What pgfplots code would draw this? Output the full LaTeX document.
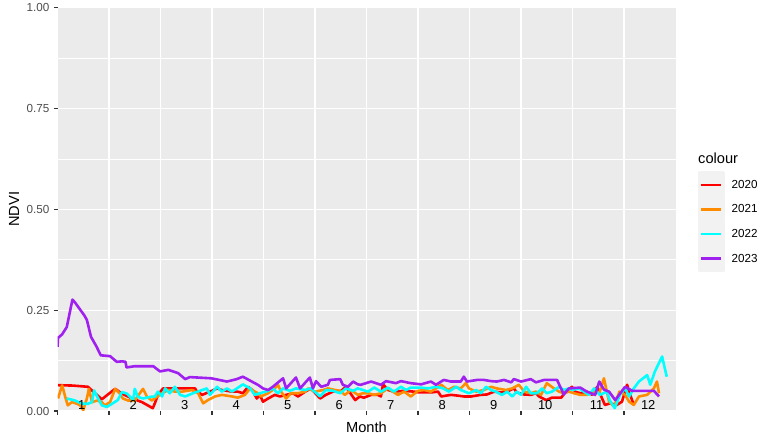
\documentclass[border=0pt]{standalone}
\usepackage{pgfplots}
\pgfplotsset{compat=1.18}
\usepackage{pgfplotstable}
\usepackage{fontspec}
\setmainfont{Liberation Sans}
\definecolor{panelbg}{HTML}{EBEBEB}
\definecolor{keybg}{HTML}{F2F2F2}
\definecolor{tickgray}{HTML}{4D4D4D}
\definecolor{tickmark}{HTML}{333333}
\definecolor{c2020}{HTML}{FF0000}
\definecolor{c2021}{HTML}{FF8C00}
\definecolor{c2022}{HTML}{00FFFF}
\definecolor{c2023}{HTML}{A020F0}

\pgfplotstableread{
m v
0.01 0.064
0.30 0.063
0.59 0.060
0.86 0.029
1.12 0.055
1.25 0.043
1.45 0.031
1.64 0.022
1.85 0.007
1.89 0.019
1.95 0.040
2.05 0.056
2.42 0.056
2.67 0.056
2.71 0.048
2.81 0.040
2.96 0.048
3.10 0.056
3.19 0.052
3.39 0.048
3.50 0.048
3.60 0.044
3.70 0.060
3.78 0.052
3.87 0.031
3.93 0.040
3.99 0.023
4.09 0.031
4.22 0.040
4.32 0.036
4.44 0.040
4.57 0.044
4.67 0.036
4.81 0.048
4.92 0.056
5.10 0.031
5.21 0.040
5.35 0.048
5.49 0.048
5.60 0.060
5.78 0.027
5.87 0.036
5.95 0.033
6.09 0.040
6.22 0.040
6.28 0.036
6.32 0.066
6.42 0.052
6.53 0.048
6.73 0.050
6.92 0.048
7.02 0.046
7.25 0.046
7.39 0.048
7.45 0.036
7.64 0.040
7.78 0.038
7.89 0.036
8.03 0.036
8.22 0.040
8.34 0.041
8.48 0.048
8.61 0.046
8.73 0.048
8.86 0.056
8.92 0.046
9.06 0.041
9.19 0.040
9.29 0.044
9.35 0.036
9.49 0.027
9.60 0.033
9.78 0.033
9.87 0.048
9.99 0.060
10.05 0.048
10.15 0.044
10.28 0.048
10.38 0.040
10.48 0.060
10.53 0.044
10.63 0.015
10.73 0.019
10.86 0.015
10.96 0.023
11.06 0.065
11.12 0.040
11.19 0.015
}\tA

\pgfplotstableread{
m v
0.01 0.031
0.09 0.064
0.15 0.035
0.20 0.014
0.28 0.022
0.38 0.018
0.44 0.014
0.50 0.002
0.57 0.031
0.61 0.055
0.67 0.022
0.77 0.026
0.86 0.022
0.92 0.014
1.02 0.022
1.12 0.055
1.21 0.043
1.27 0.031
1.37 0.026
1.50 0.026
1.66 0.055
1.74 0.035
1.83 0.026
1.93 0.035
2.03 0.044
2.15 0.052
2.28 0.048
2.42 0.048
2.61 0.052
2.73 0.044
2.83 0.019
2.92 0.027
3.06 0.036
3.19 0.040
3.39 0.036
3.50 0.033
3.64 0.040
3.74 0.056
3.83 0.048
3.89 0.044
3.95 0.036
4.09 0.044
4.22 0.056
4.28 0.065
4.34 0.048
4.44 0.031
4.53 0.044
4.67 0.044
4.81 0.048
4.87 0.056
5.00 0.048
5.16 0.052
5.25 0.056
5.39 0.052
5.49 0.050
5.58 0.040
5.70 0.052
5.83 0.040
5.93 0.044
6.03 0.044
6.15 0.040
6.28 0.044
6.42 0.056
6.51 0.048
6.61 0.040
6.73 0.048
6.86 0.036
7.00 0.050
7.12 0.052
7.25 0.048
7.35 0.056
7.45 0.065
7.58 0.052
7.70 0.060
7.83 0.056
7.93 0.069
7.99 0.056
8.13 0.048
8.28 0.052
8.42 0.060
8.53 0.056
8.71 0.052
8.83 0.056
8.96 0.065
9.06 0.048
9.19 0.044
9.29 0.048
9.39 0.040
9.50 0.069
9.64 0.056
9.74 0.048
9.83 0.044
9.93 0.048
10.03 0.044
10.15 0.040
10.28 0.040
10.42 0.048
10.52 0.044
10.61 0.081
10.71 0.023
10.81 0.011
10.91 0.048
11.02 0.040
11.10 0.023
11.19 0.015
11.29 0.036
11.45 0.040
11.58 0.056
11.64 0.073
11.68 0.044
}\tB

\pgfplotstableread{
m v
0.18 0.031
0.34 0.026
0.48 0.018
0.59 0.018
0.67 0.022
0.71 0.051
0.79 0.031
0.86 0.014
0.96 0.010
1.06 0.018
1.17 0.027
1.25 0.047
1.35 0.043
1.47 0.027
1.50 0.055
1.56 0.035
1.66 0.031
1.80 0.035
1.89 0.036
1.95 0.048
2.03 0.036
2.09 0.056
2.18 0.044
2.28 0.060
2.38 0.040
2.48 0.036
2.63 0.044
2.81 0.052
2.90 0.056
2.96 0.040
3.10 0.060
3.19 0.048
3.29 0.056
3.39 0.048
3.60 0.066
3.74 0.056
3.83 0.040
3.93 0.044
4.09 0.050
4.18 0.056
4.28 0.044
4.38 0.056
4.51 0.050
4.63 0.056
4.81 0.052
4.92 0.056
5.10 0.036
5.21 0.052
5.35 0.050
5.49 0.044
5.60 0.056
5.74 0.050
5.83 0.056
5.93 0.052
6.03 0.048
6.15 0.058
6.28 0.048
6.42 0.058
6.53 0.048
6.67 0.060
6.77 0.052
6.86 0.058
7.06 0.058
7.20 0.056
7.35 0.060
7.49 0.056
7.60 0.048
7.74 0.060
7.83 0.052
7.99 0.044
8.13 0.052
8.22 0.044
8.32 0.060
8.42 0.052
8.51 0.048
8.63 0.040
8.73 0.048
8.83 0.036
8.92 0.048
9.00 0.040
9.10 0.060
9.19 0.044
9.31 0.044
9.41 0.056
9.50 0.044
9.60 0.048
9.74 0.060
9.83 0.052
9.93 0.056
9.99 0.052
10.13 0.056
10.22 0.048
10.32 0.040
10.42 0.056
10.53 0.040
10.67 0.048
10.72 0.027
10.82 0.007
10.92 0.040
11.02 0.056
11.10 0.036
11.19 0.056
11.29 0.073
11.45 0.089
11.51 0.065
11.60 0.098
11.74 0.135
11.83 0.085
}\tC

\pgfplotstableread{
m v
0.00 0.159
0.01 0.181
0.09 0.190
0.18 0.208
0.29 0.276
0.34 0.269
0.52 0.237
0.57 0.226
0.65 0.184
0.76 0.159
0.84 0.138
1.02 0.136
1.15 0.122
1.25 0.123
1.32 0.122
1.34 0.108
1.50 0.111
1.86 0.111
1.99 0.098
2.15 0.102
2.34 0.094
2.48 0.079
2.57 0.084
2.99 0.081
3.29 0.073
3.48 0.079
3.60 0.085
3.83 0.069
3.89 0.065
3.99 0.056
4.09 0.052
4.18 0.060
4.38 0.081
4.44 0.056
4.63 0.083
4.71 0.056
4.90 0.083
4.96 0.056
5.02 0.074
5.12 0.060
5.25 0.065
5.29 0.077
5.49 0.079
5.54 0.065
5.64 0.060
5.74 0.073
5.83 0.066
5.89 0.065
6.09 0.073
6.28 0.065
6.38 0.074
6.57 0.069
6.67 0.074
6.86 0.069
7.06 0.066
7.25 0.073
7.35 0.065
7.50 0.077
7.64 0.073
7.83 0.073
7.89 0.085
7.95 0.073
8.15 0.077
8.28 0.077
8.42 0.074
8.53 0.073
8.67 0.077
8.81 0.071
8.86 0.079
9.00 0.073
9.19 0.079
9.29 0.071
9.45 0.077
9.70 0.077
9.83 0.041
9.93 0.056
10.15 0.058
10.28 0.048
10.44 0.040
10.52 0.073
10.61 0.053
10.71 0.048
10.83 0.027
11.02 0.060
11.16 0.050
11.39 0.050
11.58 0.050
11.68 0.036
}\tD

\begin{document}
\begin{tikzpicture}
\useasboundingbox (0,0) rectangle (773bp,442bp);
\begin{axis}[
  at={(57.5bp,31bp)}, anchor=south west,
  scale only axis, width=618bp, height=403.5bp,
  xmin=0, xmax=12, ymin=0, ymax=1,
  clip mode=individual,
  axis background/.style={fill=panelbg},
  axis line style={draw=none},
  xtick={0,1,2,3,4,5,6,7,8,9,10,11},
  xticklabels={},
  ytick={0,0.25,0.5,0.75,1},
  minor ytick={0.125,0.375,0.625,0.875},
  xmajorgrids, ymajorgrids, yminorgrids,
  major grid style={white, line width=1.07bp},
  minor grid style={white, line width=0.53bp},
  tick pos=left,
  tick align=outside,
  major tick length=3.7bp,
  minor tick length=0pt,
  every tick/.style={tickmark, line width=1.07bp},
  yticklabel={\pgfmathprintnumber[assume math mode=true,fixed,fixed zerofill,precision=2]{\tick}},
  yticklabel style={font=\fontsize{11.7}{12}\selectfont, text=tickgray, xshift=-1bp},
  xlabel={Month}, ylabel={NDVI},
  xlabel style={font=\fontsize{14.7}{15}\selectfont, at={(axis description cs:0.5,-0.0397)}, anchor=center},
  ylabel style={font=\fontsize{14.7}{15}\selectfont, at={(axis description cs:-0.0704,0.5)}, anchor=center},
  legend style={at={(axis description cs:1.0364,0.5938)}, anchor=north west, draw=none, fill=none,
    inner sep=0pt, outer sep=0pt, row sep=-2.4bp, column sep=7bp,
    font=\fontsize{11.7}{12}\selectfont, nodes={inner sep=0pt}},
  legend cell align=left,
  legend image code/.code={\fill[keybg] (0bp,-12.2bp) rectangle (24bp,12.2bp); \draw[#1, line width=2.6bp] (2bp,0bp) -- (22bp,0bp);},
  every axis plot/.append style={line width=2.6bp, line join=round},
]
\addplot[c2020, no marks] table[x=m, y=v] {\tA};
\addlegendentry{2020}
\addplot[c2021, no marks] table[x=m, y=v] {\tB};
\addlegendentry{2021}
\addplot[c2022, no marks] table[x=m, y=v] {\tC};
\addlegendentry{2022}
\addplot[c2023, no marks] table[x=m, y=v] {\tD};
\addlegendentry{2023}
\node[anchor=base west, font=\fontsize{14.7}{15}\selectfont, inner sep=0pt] at (axis description cs:1.0364,0.6146) {colour};
\foreach \k in {1,...,12} {
  \pgfmathsetmacro{\xx}{\k-0.53}
  \edef\temp{\noexpand\node[font=\noexpand\fontsize{13}{13}\noexpand\selectfont, inner sep=0pt] at (axis cs:\xx,0.015) {\k};}
  \temp
}
\end{axis}
\end{tikzpicture}
\end{document}
